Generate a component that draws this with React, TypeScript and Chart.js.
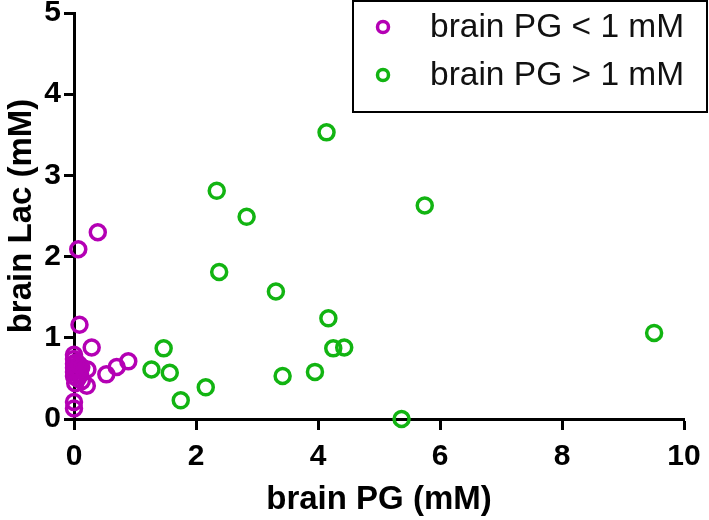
import React, { useEffect, useRef } from 'react';
import { Chart, registerables } from 'chart.js';

Chart.register(...registerables);

const seriesLabels = ['brain PG < 1 mM', 'brain PG > 1 mM'];
const seriesColors = ['#B400B4', '#12B412'];

const purpleX = [0.07, 0.39, 0.09, 0.29, 0.0, 0.89, 0.70, 0.53, 0.22, 0.21, 0.0, 0.0,
  0.0, 0.0, 0.0, 0.0, 0.0, 0.04, 0.05, 0.06, 0.10, 0.12, 0.13, 0.02, 0.08];
const purpleY = [2.09, 2.30, 1.16, 0.88, 0.79, 0.71, 0.64, 0.55, 0.61, 0.41, 0.21, 0.13,
  0.74, 0.68, 0.63, 0.58, 0.53, 0.70, 0.60, 0.50, 0.55, 0.64, 0.47, 0.44, 0.67];

const greenX = [1.27, 1.47, 1.57, 1.75, 2.16, 2.34, 2.38, 2.83, 3.31, 3.42, 3.95, 4.14,
  4.17, 4.25, 4.43, 5.37, 5.75, 9.51];
const greenY = [0.61, 0.87, 0.57, 0.23, 0.39, 2.81, 1.81, 2.49, 1.57, 0.53, 0.58, 3.53,
  1.24, 0.87, 0.88, 0.0, 2.63, 1.06];

const xTitle = 'brain PG (mM)';
const yTitle = 'brain Lac (mM)';
const xMin = 0, xMax = 10, xStep = 2;
const yMin = 0, yMax = 5, yStep = 1;

const FONT = '"Liberation Sans", Arial, Helvetica, sans-serif';

const toPoints = (xs: number[], ys: number[]) => xs.map((x, i) => ({ x, y: ys[i] }));

const boxLegend = {
  id: 'boxLegend',
  afterDraw(chart: any) {
    const ctx = chart.ctx as CanvasRenderingContext2D;
    ctx.save();
    const L = 353, T = 1, R = 707, B = 112;
    ctx.fillStyle = '#ffffff';
    ctx.fillRect(L, T, R - L, B - T);
    ctx.strokeStyle = '#000000';
    ctx.lineWidth = 2;
    ctx.strokeRect(L, T, R - L, B - T);
    chart.data.datasets.forEach((ds: any, i: number) => {
      const y = 27 + i * 48;
      ctx.beginPath();
      ctx.arc(383, y, 5.5, 0, Math.PI * 2);
      ctx.lineWidth = 3.5;
      ctx.strokeStyle = ds.borderColor;
      ctx.stroke();
      ctx.fillStyle = '#111111';
      ctx.font = `33.5px ${FONT}`;
      ctx.textBaseline = 'middle';
      ctx.textAlign = 'left';
      ctx.fillText(ds.label, 430, y + 1);
    });
    ctx.restore();
  },
};

export default function App() {
  const ref = useRef<HTMLCanvasElement | null>(null);

  useEffect(() => {
    if (!ref.current) return;
    const chart = new Chart(ref.current, {
      type: 'scatter',
      data: {
        datasets: [
          {
            label: seriesLabels[0],
            data: toPoints(purpleX, purpleY),
            borderColor: seriesColors[0],
            backgroundColor: 'rgba(0,0,0,0)',
            pointRadius: 7.5,
            pointBorderWidth: 3.5,
            clip: false,
          } as any,
          {
            label: seriesLabels[1],
            data: toPoints(greenX, greenY),
            borderColor: seriesColors[1],
            backgroundColor: 'rgba(0,0,0,0)',
            pointRadius: 7.5,
            pointBorderWidth: 3.5,
            clip: false,
          } as any,
        ],
      },
      options: {
        responsive: false,
        animation: false,
        devicePixelRatio: 1,
        layout: { padding: { top: 13, right: 25, left: 0, bottom: 0 } },
        plugins: {
          legend: { display: false },
          tooltip: { enabled: false },
        },
        scales: {
          x: {
            type: 'linear',
            min: xMin,
            max: xMax,
            ticks: {
              stepSize: xStep,
              color: '#000',
              padding: 9,
              maxRotation: 0,
              font: { family: FONT, size: 30, weight: 'bold' },
            },
            grid: {
              display: true,
              drawOnChartArea: false,
              drawTicks: true,
              tickLength: 11,
              tickWidth: 3,
              tickColor: '#000',
              color: '#000',
            },
            border: { display: true, color: '#000', width: 3 },
            title: {
              display: true,
              text: xTitle,
              color: '#000',
              padding: { top: 0, bottom: 0 },
              font: { family: FONT, size: 33, weight: 'bold' },
            },
            afterFit: (scale: any) => {
              scale.height = 101;
              scale.paddingLeft = 0;
              scale.paddingRight = 0;
            },
          },
          y: {
            type: 'linear',
            min: yMin,
            max: yMax,
            ticks: {
              stepSize: yStep,
              color: '#000',
              padding: 3,
              font: { family: FONT, size: 30, weight: 'bold' },
            },
            grid: {
              display: true,
              drawOnChartArea: false,
              drawTicks: true,
              tickLength: 10,
              tickWidth: 3,
              tickColor: '#000',
              color: '#000',
            },
            border: { display: true, color: '#000', width: 3 },
            title: {
              display: true,
              text: yTitle,
              color: '#000',
              padding: { top: 2, bottom: 0 },
              font: { family: FONT, size: 33, weight: 'bold' },
            },
            afterFit: (scale: any) => {
              scale.width = 74;
              scale.paddingTop = 0;
              scale.paddingBottom = 0;
            },
          },
        },
      } as any,
      plugins: [boxLegend],
    });
    return () => chart.destroy();
  }, []);

  return (
    <div style={{ position: 'fixed', left: 0, top: 0, width: 709, height: 520, background: '#fff' }}>
      <canvas ref={ref} width={709} height={520} style={{ display: 'block' }} />
    </div>
  );
}
